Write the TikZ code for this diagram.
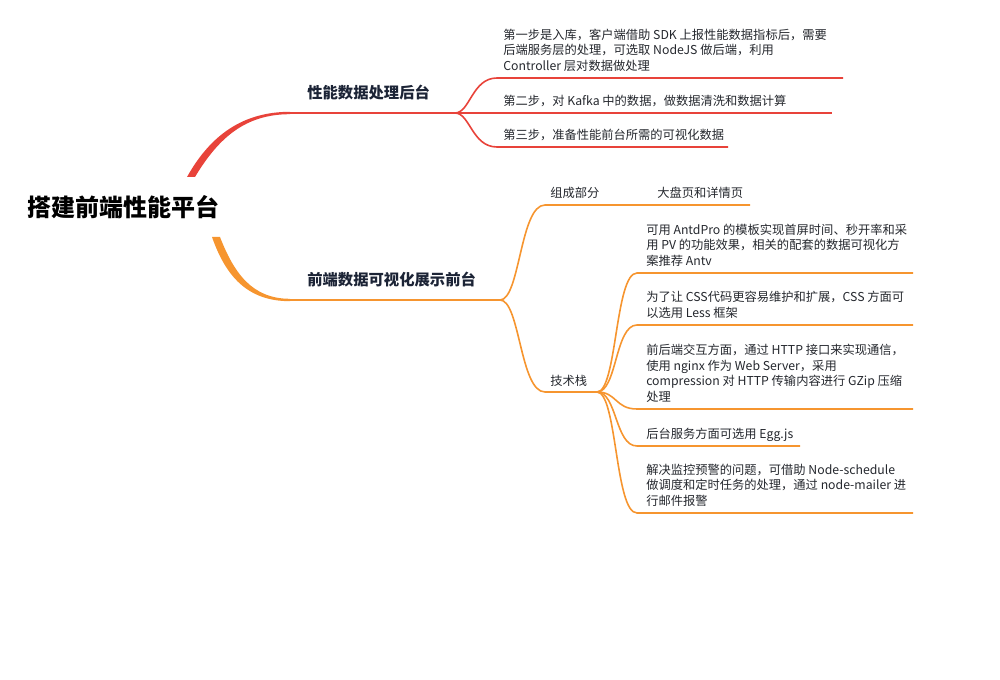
\documentclass[tikz,border=0pt]{standalone}
\usepackage{fontspec}
\setmainfont{Noto Sans CJK SC}
\definecolor{redbr}{HTML}{E8433A}
\definecolor{orbr}{HTML}{F6952F}
\definecolor{txt}{HTML}{24272D}
\definecolor{brtxt}{HTML}{1C2436}
\begin{document}
\begin{tikzpicture}[x=0.75pt,y=-0.75pt,
  leaf/.style={anchor=south west,inner sep=0pt,align=left,text=txt,
    font={\fontsize{9.2}{11.8}\selectfont}},
  branchlabel/.style={anchor=west,inner sep=0pt,text=brtxt,
    font={\fontsize{11.5}{14}\selectfont\bfseries}},
  rootlabel/.style={inner sep=0pt,text=black,
    font={\fontsize{18}{22}\selectfont\bfseries}},
  redmain/.style={draw=redbr,line width=1.6pt},
  redsub/.style={draw=redbr,line width=1.2pt},
  ormain/.style={draw=orbr,line width=1.6pt},
  orsub/.style={draw=orbr,line width=1.2pt},
]
\path[use as bounding box] (0,0) rectangle (1000,680);

% root
\node[rootlabel] (root) at (123,207) {搭建前端性能平台};

% ---------- red branch: back end ----------
\coordinate (rA) at (290,113);
\coordinate (rF) at (455,113);
\fill[redbr] (187,177) .. controls (211,134) and (244,111.8) .. (290,111.8)
  -- (290,114.2) .. controls (246,114.2) and (219,137) .. (195,177) -- cycle;
\draw[redmain] (rA) -- (rF);
\node[branchlabel] (back) at (307,93) {性能数据处理后台};

\coordinate (s1a) at (497,78);  \coordinate (s1b) at (843,78);
\coordinate (s2b) at (832,113);
\coordinate (s3a) at (497,147); \coordinate (s3b) at (728,147);
\node[leaf] (s1) at (503,75.5) {第一步是入库，客户端借助 SDK 上报性能数据指标后，需要\\后端服务层的处理，可选取 NodeJS 做后端，利用\\Controller 层对数据做处理\strut};
\node[leaf] (s2) at (503,110.5) {第二步，对 Kafka 中的数据，做数据清洗和数据计算\strut};
\node[leaf] (s3) at (503,144.5) {第三步，准备性能前台所需的可视化数据\strut};
\draw[redsub] (rF) .. controls +(15,0) and +(-25,0) .. (s1a) -- (s1b);
\draw[redsub] (rF) -- (s2b);
\draw[redsub] (rF) .. controls +(15,0) and +(-25,0) .. (s3a) -- (s3b);

% ---------- orange branch: front end ----------
\coordinate (oA) at (290,300);
\coordinate (oF) at (500,300);
\fill[orbr] (212,237) .. controls (226,277) and (248,301.2) .. (290,301.2)
  -- (290,298.8) .. controls (252,298.8) and (234,273) .. (220,237) -- cycle;
\draw[ormain] (oA) -- (oF);
\node[branchlabel] (front) at (307,280) {前端数据可视化展示前台};

% parts
\coordinate (pA) at (545,205); \coordinate (pB) at (750,205);
\node[leaf] (parts) at (550,202.5) {组成部分\strut};
\node[leaf] (pages) at (657,202.5) {大盘页和详情页\strut};
\draw[orsub] (oF) .. controls +(20,0) and +(-25,0) .. (pA) -- (pB);

% tech stack
\coordinate (kA) at (545,392); \coordinate (kF) at (597,392);
\node[leaf] (stack) at (550,390) {技术栈\strut};
\draw[orsub] (oF) .. controls +(20,0) and +(-25,0) .. (kA) -- (kF);

\coordinate (t1a) at (637,273); \coordinate (t1b) at (913,273);
\coordinate (t2a) at (637,325); \coordinate (t2b) at (913,325);
\coordinate (t3a) at (637,409); \coordinate (t3b) at (913,409);
\coordinate (t4a) at (637,446); \coordinate (t4b) at (800,446);
\coordinate (t5a) at (637,513); \coordinate (t5b) at (913,513);

\node[leaf] (t1) at (646,270.5) {可用 AntdPro 的模板实现首屏时间、秒开率和采\\用 PV 的功能效果，相关的配套的数据可视化方\\案推荐 Antv\strut};
\node[leaf] (t2) at (646,322.5) {为了让 CSS代码更容易维护和扩展，CSS 方面可\\以选用 Less 框架\strut};
\node[leaf] (t3) at (646,406.5) {前后端交互方面，通过 HTTP 接口来实现通信，\\使用 nginx 作为 Web Server，采用\\compression 对 HTTP 传输内容进行 GZip 压缩\\处理\strut};
\node[leaf] (t4) at (646,443.5) {后台服务方面可选用 Egg.js\strut};
\node[leaf] (t5) at (646,510.5) {解决监控预警的问题，可借助 Node-schedule\\做调度和定时任务的处理，通过 node-mailer 进\\行邮件报警\strut};

\foreach \t in {t1,t2,t3,t4,t5}
  \draw[orsub] (kF) .. controls +(20,0) and +(-22,0) .. (\t a) -- (\t b);
\end{tikzpicture}
\end{document}
